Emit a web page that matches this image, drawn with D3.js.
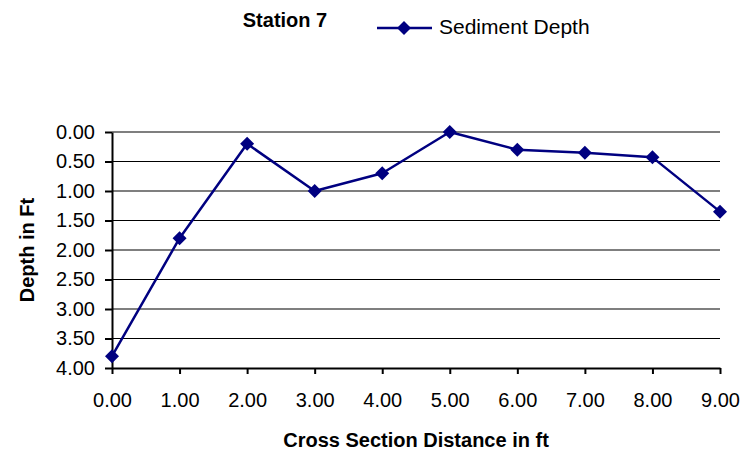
<!DOCTYPE html>
<html>
<head>
<meta charset="utf-8">
<script src="https://cdn.jsdelivr.net/npm/d3@7"></script>
<style>
  html, body { margin: 0; padding: 0; background: #fff; }
  svg text { font-family: "Liberation Sans", Arial, sans-serif; fill: #000; }
</style>
</head>
<body>
<svg id="chart" width="744" height="455"></svg>
<script>
// Sediment depth across station 7
const distances = [0, 1, 2, 3, 4, 5, 6, 7, 8, 9];
const depths = [3.8, 1.8, 0.2, 1.0, 0.7, 0.0, 0.3, 0.35, 0.43, 1.35];
const xTicks = [0, 1, 2, 3, 4, 5, 6, 7, 8, 9];
const yTicks = [0, 0.5, 1, 1.5, 2, 2.5, 3, 3.5, 4];

const chartTitle = "Station 7";
const seriesName = "Sediment Depth";
const xTitle = "Cross Section Distance in ft";
const yTitle = "Depth in Ft";

const navy = "#000080";
const svg = d3.select("#chart");

const x = d3.scaleLinear().domain([0, 9]).range([112, 720]);
const y = d3.scaleLinear().domain([0, 4]).range([132, 368]);
const fmt = d3.format(".2f");

// horizontal gridlines
svg.append("g")
  .selectAll("line")
  .data(yTicks.filter(v => v < 4))
  .join("line")
  .attr("x1", x(0)).attr("x2", x(9))
  .attr("y1", d => y(d)).attr("y2", d => y(d))
  .attr("stroke", "#000").attr("stroke-width", 1.2);

// y axis
const yAxis = svg.append("g")
  .attr("transform", `translate(${x(0)},0)`)
  .call(d3.axisLeft(y).tickValues(yTicks).tickFormat(fmt).tickSize(7).tickSizeOuter(0).tickPadding(10));
yAxis.select(".domain").attr("stroke", "#000").attr("stroke-width", 2);
yAxis.selectAll(".tick line").attr("stroke", "#000").attr("stroke-width", 2);
yAxis.selectAll(".tick text").style("font-size", "20px").attr("fill", "#000");

// x axis
const xAxis = svg.append("g")
  .attr("transform", `translate(0,${y(4)})`)
  .call(d3.axisBottom(x).tickValues(xTicks).tickFormat(fmt).tickSize(6).tickSizeOuter(0).tickPadding(19));
xAxis.select(".domain").attr("stroke", "#000").attr("stroke-width", 2);
xAxis.selectAll(".tick line").attr("stroke", "#000").attr("stroke-width", 2);
xAxis.selectAll(".tick text").style("font-size", "20px").attr("fill", "#000");

// series line
const line = d3.line().x((d, i) => x(distances[i])).y(d => y(d));
svg.append("path")
  .datum(depths)
  .attr("d", line)
  .attr("fill", "none")
  .attr("stroke", navy)
  .attr("stroke-width", 2.5)
  .attr("stroke-linejoin", "round");

// diamond markers
const diamond = d3.symbol().type(d3.symbolSquare).size(98);
svg.append("g")
  .selectAll("path")
  .data(depths)
  .join("path")
  .attr("d", diamond)
  .attr("transform", (d, i) => `translate(${x(distances[i])},${y(d)}) rotate(45)`)
  .attr("fill", navy);

// title
svg.append("text")
  .attr("x", 285).attr("y", 27)
  .attr("text-anchor", "middle")
  .style("font-size", "20px").style("font-weight", "bold")
  .text(chartTitle);

// legend
const legend = svg.append("g");
legend.append("line")
  .attr("x1", 377).attr("x2", 432).attr("y1", 28).attr("y2", 28)
  .attr("stroke", navy).attr("stroke-width", 2.5);
legend.append("path")
  .attr("d", diamond)
  .attr("transform", "translate(404,28) rotate(45)")
  .attr("fill", navy);
legend.append("text")
  .attr("x", 439).attr("y", 34)
  .style("font-size", "21px")
  .text(seriesName);

// axis titles
svg.append("text")
  .attr("x", (x(0) + x(9)) / 2).attr("y", 447)
  .attr("text-anchor", "middle")
  .style("font-size", "20px").style("font-weight", "bold")
  .text(xTitle);

svg.append("text")
  .attr("transform", `translate(34,${(y(0) + y(4)) / 2}) rotate(-90)`)
  .attr("text-anchor", "middle")
  .style("font-size", "20px").style("font-weight", "bold")
  .text(yTitle);
</script>
</body>
</html>
